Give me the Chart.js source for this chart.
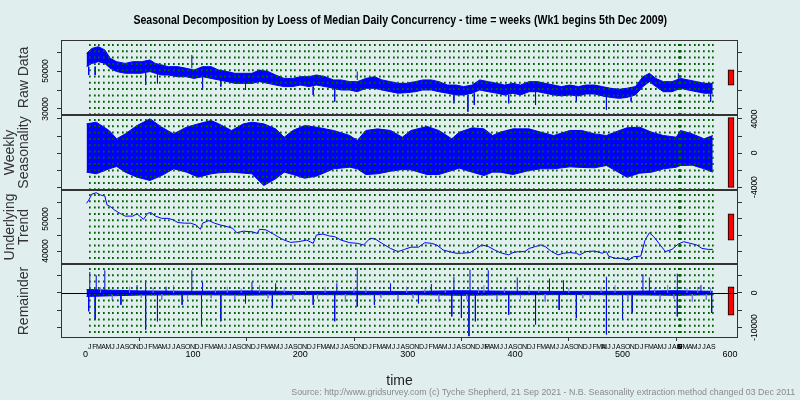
<!DOCTYPE html>
<html>
<head>
<meta charset="utf-8">
<title>Seasonal Decomposition</title>
<script src="https://cdn.jsdelivr.net/npm/chart.js@4.4.1/dist/chart.umd.min.js"></script>
<style>
  html, body { margin: 0; padding: 0; background: #e0eeee; }
  #wrap { position: relative; width: 800px; height: 400px; overflow: hidden; background: #e0eeee; }
  #wrap canvas { position: absolute; left: 0; top: 0; }
  .txt { position: absolute; white-space: nowrap; }
  #title { top: 10px; left: 0; width: 800px; text-align: center; }
  #title span { display: inline-block; font: bold 12px "Liberation Sans Narrow", "Liberation Sans", Arial, sans-serif; color: #000; transform-origin: 50% 50%; }
  #source { top: 387px; right: 5px; font: 9px "Liberation Sans", Arial, sans-serif; color: #8a8a8a; transform-origin: 100% 50%; }
</style>
</head>
<body>
<div id="wrap">
  <canvas id="p1" width="800" height="400"></canvas>
  <canvas id="p2" width="800" height="400"></canvas>
  <canvas id="p3" width="800" height="400"></canvas>
  <canvas id="p4" width="800" height="400"></canvas>
  <div id="title" class="txt"><span>Seasonal Decomposition by Loess of Median Daily Concurrency - time = weeks (Wk1 begins 5th Dec 2009)</span></div>
  <div id="source" class="txt">Source: http://www.gridsurvey.com (c) Tyche Shepherd, 21 Sep 2021 - N.B. Seasonality extraction method changed 03 Dec 2011</div>
</div>
<script>
// ---- data ----
// raw data: upper / lower edge of the daily band, plus the odd spike
const rawWeeks = [1,6,12,18,23,29,37,44,52,60,65,71,77,86,94,101,109,117,124,132,139,147,155,162,170,177,185,193,200,208,215,223,231,238,246,253,261,269,276,284,291,299,307,314,322,329,337,345,352,360,367,375,383,390,398,405,413,421,428,436,443,451,459,466,474,481,489,497,504,512,519,525,531,538,546,554,561,569,576,584];
const rawHigh = [59300,61900,62800,61100,56700,54900,54000,54900,54900,55800,54000,53200,52300,52300,51400,50500,52300,52300,50500,49700,48800,48800,48800,50500,49700,47900,46100,46100,47000,47000,47900,47000,45300,45300,44400,44400,46100,47000,45300,44400,43500,43500,44400,45300,45300,44400,42600,42600,41800,42600,45300,44400,43500,42600,43500,42600,44400,44400,43500,42600,41800,42600,41800,42600,42600,41800,40900,40400,40900,41800,47000,48800,46100,44400,44400,46100,45300,44400,43500,43500];
const rawLow = [52300,54000,54900,54000,51400,49700,48800,48800,48800,49700,48800,47900,47900,47000,47000,46100,47000,46100,45300,44400,43500,43500,43500,44400,43500,42600,41800,41800,42600,41800,42600,41800,40900,40000,40000,39100,40900,40900,40000,39100,38300,38600,39100,40000,40000,39100,38300,37400,37400,38300,40000,39100,38300,37400,38300,37400,39100,39100,38300,37400,36900,37400,36900,37900,37900,36900,36100,35600,36100,37400,41800,44400,41800,39100,39100,40900,40000,39100,38300,38300];
const rawSpikeWeeks = [3,9,56,67,99,109,126,149,212,232,253,343,356,362,394,419,457,485,508,552,582];
const rawSpikeFrom = [52300,52300,48800,48800,51400,47000,45300,43500,41800,40900,45300,38300,37400,38300,37400,39100,37400,36900,36100,45300,38300];
const rawSpikeTo = [47900,47900,42600,43500,58400,40000,41800,40000,37400,33900,49700,33000,28600,32100,33000,32100,33900,29500,33900,48800,33900];

// weekly seasonality: envelope of the daily oscillation
const seasWeeks = [1,10,22,29,37,48,60,71,82,94,105,117,124,136,147,155,166,177,185,193,204,215,231,246,253,261,272,284,295,303,318,329,341,348,360,371,379,386,398,413,424,436,451,462,474,485,497,504,516,527,538,550,554,565,576,584];
const seasHigh = [3430,3630,2650,1670,2250,3230,4020,3040,2250,3040,3430,3820,3430,2650,3430,3630,3430,2840,1860,2650,3230,3040,2650,2060,1470,2650,2840,2650,1860,2650,3120,2650,1670,2450,2960,2840,2060,2450,2840,2840,2450,2060,2650,2650,2250,2060,2650,2960,3040,2450,2060,1860,2650,2250,1670,2060];
const seasLow = [-2250,-2450,-1860,-1590,-2250,-2840,-3230,-2650,-1860,-2250,-2840,-2450,-2330,-2250,-2370,-2450,-3820,-3040,-2250,-2530,-2960,-2720,-1860,-1670,-1860,-2530,-2450,-2140,-1940,-1980,-2530,-2530,-2060,-1780,-2250,-2650,-2250,-2250,-2530,-2060,-1860,-1860,-1630,-1700,-1740,-1470,-2330,-2840,-2370,-2250,-1860,-1670,-1470,-1430,-1860,-2250];

// underlying trend
const trendWeeks = [1,3,6,10,14,18,20,23,27,33,37,44,48,54,58,61,65,71,77,82,86,92,98,103,107,109,115,120,126,132,137,141,147,155,160,162,168,174,179,185,191,198,206,212,215,221,227,232,238,246,253,259,265,270,276,284,291,297,303,310,316,322,327,333,339,345,350,358,364,369,375,381,386,394,398,403,409,413,419,424,428,434,440,445,451,457,460,466,474,481,485,487,493,500,506,510,517,521,525,529,535,540,546,552,557,563,569,574,580,584];
const trendValues = [54900,55900,57800,58200,57500,57200,54400,53900,52800,51600,50900,50900,51600,49900,51800,52000,50900,50200,50200,49700,48900,48700,48700,48100,46800,48700,49500,48700,48100,47600,47100,45700,46200,46000,45500,46800,46600,45500,44500,43400,42700,42900,43400,42400,45000,45300,44700,44500,43400,42600,42400,41900,44000,43700,42400,40800,39800,40500,41200,41200,42600,42400,41900,40300,39800,39300,39300,39500,40800,41900,41400,40300,39500,38800,39500,39800,39800,40800,41400,41900,41400,39800,38800,39300,39500,39300,38800,39800,40000,39300,39800,38400,37700,37700,37200,38200,38400,43400,45700,44500,41900,39800,40500,42200,42900,42400,41900,40800,40500,40500];

// remainder: narrow band round zero, big spikes, smaller lighter spikes
const remBandWeeks = [1,50,100,150,200,250,300,350,400,450,500,550,584];
const remBandHigh = [1000,600,500,600,450,500,450,650,500,450,500,650,500];
const remBandLow = [-1000,-600,-500,-600,-450,-500,-450,-650,-500,-450,-500,-650,-500];
const remSpikeWeeks = [4,10,18,48,56,75,99,109,155,177,234,253,284,322,343,358,375,402,432,445,485,519,525,551,573,
                       3,9,33,56,67,90,108,126,149,174,212,232,253,269,310,341,350,357,363,394,419,441,457,485,500,509,551,583];
const remSpikeValues = [6100,5100,6600,2300,3700,1800,6600,3200,3200,2800,2800,7300,2800,2600,4700,6800,6600,4500,4200,3700,4700,5400,4500,5600,2300,
                        -5300,-7700,-3400,-10600,-8200,-3400,-9600,-8200,-3000,-4400,-3400,-8200,-3900,-3400,-3000,-6800,-7200,-12500,-8200,-6300,-9100,-4900,-7200,-12000,-7700,-5800,-6800,-5800];
const remSmallWeeks = [14,25,41,52,63,71,82,95,117,121,132,139,145,162,170,185,193,205,216,223,242,250,261,275,291,299,305,316,329,335,355,366,371,383,390,405,413,422,428,450,463,470,480,493,505,530,535,542,548,560,565,570,578,582];
const remSmallValues = [1600,-2000,1800,-1400,1500,-2000,2300,-1600,-1500,1400,1800,-2500,1300,2300,-1500,1600,-2000,1400,-1700,1800,-2500,1500,1800,-1400,-2000,1800,-1500,1300,-2500,1500,-1800,1400,2300,-2500,1600,-1600,2300,1500,-2500,1400,-1500,-2000,1700,2300,-1800,1500,-2000,2300,-1600,1400,-2500,1700,-2000,1500];

// range bars (same data span in every panel)
const rangeBarWeek = 601;
const rangeBarSpan = 8200;

// axes
const monthLetters = ['J','F','M','A','M','J','J','A','S','O','N','D'];
const monthCount = 141;                  // Jan 2010 .. Sep 2021
const shortStepBefore = [86, 112, 129, 130, 131, 132, 133];
const xNumberTicks = [0, 100, 200, 300, 400, 500, 600];
const XMIN = -22.8, XMAX = 607.5;

const monthTicks = [];
let mw = 3.9;
for (let i = 0; i < monthCount; i++) {
  if (i > 0) mw += shortStepBefore.includes(i) ? 0.3 : 4.35;
  monthTicks.push(mw);
}

const BLUE = '#0000ff';
const LIGHT = '#7373ff';
const SANS = '"Liberation Sans", Arial, sans-serif';
const NARROW = '"Liberation Sans Narrow", "Liberation Sans", Arial, sans-serif';

function pts(weeks, vals) { return weeks.map((w, i) => ({ x: w, y: vals[i] })); }

function band(weeks, hi, lo) {
  return [
    { data: pts(weeks, hi), borderColor: BLUE, backgroundColor: BLUE, borderWidth: 1, pointRadius: 0, fill: '+1', tension: 0 },
    { data: pts(weeks, lo), borderColor: BLUE, borderWidth: 1, pointRadius: 0, fill: false, tension: 0 }
  ];
}

function spikes(weeks, from, to, color) {
  const d = [];
  weeks.forEach((w, i) => {
    d.push({ x: w, y: from ? from[i] : 0 }, { x: w, y: to[i] }, { x: w, y: null });
  });
  return { data: d, borderColor: color, borderWidth: 1, pointRadius: 0, fill: false, spanGaps: false };
}

function rangeBar(min, max) {
  const mid = (min + max) / 2;
  return {
    type: 'bar', data: [{ x: rangeBarWeek, y: [mid - rangeBarSpan / 2, mid + rangeBarSpan / 2] }],
    backgroundColor: '#ff0000', borderColor: '#000', borderWidth: 1, borderSkipped: false,
    grouped: false, maxBarThickness: 6, barPercentage: 1, categoryPercentage: 1
  };
}

// rotated y tick labels (R style, reading upwards) and the month letters
const labelPlugin = {
  id: 'axisText',
  afterDraw(chart, args, opts) {
    const { ctx, chartArea } = chart;
    const sc = chart.scales.y;
    const x = opts.side === 'left' ? chartArea.left - 15 : chartArea.right + 17;
    ctx.save();
    ctx.font = '8.5px ' + SANS;
    ctx.fillStyle = '#000';
    ctx.textAlign = 'center';
    ctx.textBaseline = 'middle';
    opts.values.forEach(v => {
      ctx.save();
      ctx.translate(x, sc.getPixelForValue(v));
      ctx.rotate(-Math.PI / 2);
      ctx.fillText(String(v), 0, 0);
      ctx.restore();
    });
    if (opts.months) {
      const xs = chart.scales.xm;
      ctx.font = '7px ' + NARROW;
      monthTicks.forEach((w, i) => {
        ctx.fillText(monthLetters[i % 12], xs.getPixelForValue(w), chartArea.bottom + 9);
      });
    }
    ctx.restore();
  }
};

const boxPlugin = {
  id: 'panelBox',
  afterDraw(chart, args, opts) {
    const { ctx, chartArea: a } = chart;
    ctx.save();
    if (opts.zero) {
      const y = Math.round(chart.scales.y.getPixelForValue(0)) + 0.5;
      ctx.strokeStyle = '#000';
      ctx.lineWidth = 1;
      ctx.beginPath();
      ctx.moveTo(a.left, y);
      ctx.lineTo(a.right, y);
      ctx.stroke();
    }
    ctx.strokeStyle = '#333';
    ctx.lineWidth = 1;
    ctx.strokeRect(a.left + 0.5, a.top + 0.5, a.width - 1, a.height - 1);
    ctx.restore();
  }
};

function panel(id, o) {
  const yAxis = (pos) => ({
    type: 'linear', position: pos, min: o.min, max: o.max,
    afterBuildTicks: s => { s.ticks = o.ticks.map(v => ({ value: v })); },
    afterFit: s => { s.width = pos === 'left' ? 61 : 62; },
    ticks: { display: false },
    grid: { drawOnChartArea: false, drawTicks: true, tickLength: 4, tickColor: '#333', tickWidth: 1 },
    border: { display: false }
  });
  const y = yAxis('left');
  y.title = {
    display: true, text: o.title, color: '#333',
    font: { family: SANS, size: 14, lineHeight: 1 },
    padding: { top: o.titlePad, bottom: 0 }
  };
  const y2 = yAxis('right');

  const x = {
    type: 'linear', display: !!o.showX, position: 'bottom', weight: 1, offset: false,
    min: XMIN, max: XMAX,
    afterBuildTicks: s => { s.ticks = xNumberTicks.map(v => ({ value: v })); },
    ticks: { color: '#000', font: { family: SANS, size: 9 }, padding: 8.6, maxRotation: 0, autoSkip: false },
    grid: { drawOnChartArea: false, tickLength: 3, tickColor: '#333' },
    border: { display: false },
    title: { display: true, text: 'time', color: '#222', font: { family: SANS, size: 14, lineHeight: 1 }, padding: { top: 0, bottom: 12 } }
  };
  if (o.showX) x.afterFit = s => { s.height = 62; };

  new Chart(document.getElementById(id), {
    type: 'line',
    data: { datasets: o.datasets },
    options: {
      responsive: false, animation: false, devicePixelRatio: 1,
      layout: { padding: { top: o.top, bottom: o.bottom, left: 0, right: 0 } },
      plugins: {
        legend: { display: false }, tooltip: { enabled: false },
        axisText: { side: o.labelSide, values: o.labels, months: !!o.showX },
        panelBox: { zero: !!o.zero }
      },
      scales: {
        x: x,
        xm: {
          type: 'linear', axis: 'x', display: true, position: 'bottom', weight: 0, offset: false,
          min: XMIN, max: XMAX,
          afterBuildTicks: s => { s.ticks = monthTicks.map(v => ({ value: v })); },
          afterFit: s => { s.height = 0; },
          ticks: { display: false },
          grid: { color: '#006000', lineWidth: 1.7, drawTicks: false, z: 1 },
          border: { display: false, dash: [2, 4.3], dashOffset: 2.3 }
        },
        y: y,
        y2: y2
      }
    },
    plugins: [labelPlugin, boxPlugin]
  });
}

// panel 1: raw data
const p1 = { min: 26840, max: 66320 };
panel('p1', {
  top: 40, bottom: 285, min: p1.min, max: p1.max,
  ticks: [30000, 40000, 50000, 60000], labels: [30000, 50000], labelSide: 'left',
  title: 'Raw Data', titlePad: 17,
  datasets: [rangeBar(p1.min, p1.max), spikes(rawSpikeWeeks, rawSpikeFrom, rawSpikeTo, BLUE)].concat(band(rawWeeks, rawHigh, rawLow))
});

// panel 2: weekly seasonality
const p2 = { min: -4350, max: 4470 };
panel('p2', {
  top: 115, bottom: 210, min: p2.min, max: p2.max,
  ticks: [-4000, -2000, 0, 2000, 4000], labels: [-4000, 0, 4000], labelSide: 'right',
  title: ['Weekly', 'Seasonality'], titlePad: 3,
  datasets: [rangeBar(p2.min, p2.max)].concat(band(seasWeeks, seasHigh, seasLow))
});

// panel 3: underlying trend
const p3 = { min: 35940, max: 59060 };
panel('p3', {
  top: 190, bottom: 136, min: p3.min, max: p3.max,
  ticks: [40000, 45000, 50000, 55000], labels: [40000, 50000], labelSide: 'left',
  title: ['Underlying', 'Trend'], titlePad: 3,
  datasets: [rangeBar(p3.min, p3.max),
    { data: pts(trendWeeks, trendValues), borderColor: BLUE, borderWidth: 1, pointRadius: 0, fill: false, tension: 0 }]
});

// panel 4: remainder, with the time axis
const p4 = { min: -13040, max: 8400 };
panel('p4', {
  top: 264, bottom: 0, min: p4.min, max: p4.max, showX: true, zero: true,
  ticks: [-10000, -5000, 0, 5000], labels: [-10000, 0], labelSide: 'right',
  title: 'Remainder', titlePad: 17,
  datasets: [rangeBar(p4.min, p4.max),
    spikes(remSpikeWeeks, null, remSpikeValues, BLUE),
    spikes(remSmallWeeks, null, remSmallValues, LIGHT)].concat(band(remBandWeeks, remBandHigh, remBandLow))
});

function fitWidth(el, w) {
  const r = el.getBoundingClientRect().width;
  if (r > 0) el.style.transform = 'scaleX(' + (w / r).toFixed(3) + ')';
}
fitWidth(document.querySelector('#title span'), 534);
fitWidth(document.getElementById('source'), 504);
</script>
</body>
</html>
